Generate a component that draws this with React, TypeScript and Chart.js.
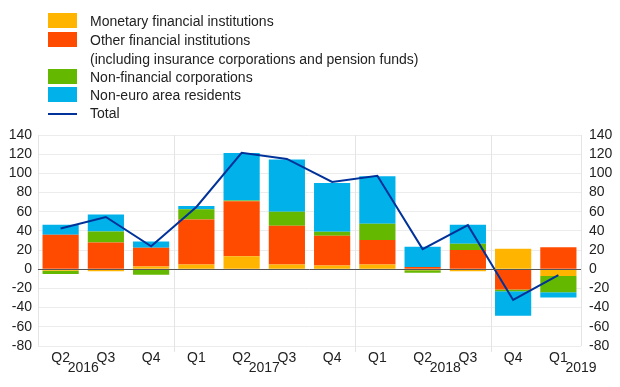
import React, { useEffect, useRef } from 'react';
import { Chart, registerables } from 'chart.js';

Chart.register(...registerables);

const quarters = ['Q2', 'Q3', 'Q4', 'Q1', 'Q2', 'Q3', 'Q4', 'Q1', 'Q2', 'Q3', 'Q4', 'Q1'];
const years = ['2016', '2017', '2018', '2019'];
const yearLabelPositions = [0.5, 4.5, 8.5, 11.5];
const yearBoundaries = [2.5, 6.5, 9.5];

const mfi = [-1.5, -2, 3, 5, 13.5, 5, 4, 5, -1, -2, 21.5, -7];
const ofi = [36, 28, 19.5, 47, 57.5, 40.5, 31, 25.5, 2.5, 20, -21, 23];
const nfc = [-3.5, 11.5, -5.8, 10.5, 0.8, 14.5, 4, 17, -2.5, 6.5, -2, -17];
const nea = [10.5, 17.5, 6.5, 3.5, 49.5, 54.5, 51, 49.5, 21, 20, -25.5, -5.5];
const total = [42.5, 54.5, 24, 65, 121.5, 115, 91, 97.5, 21, 46, -32, -6];

const yTicks = [140, 120, 100, 80, 60, 40, 20, 0, -20, -40, -60, -80];

const COLORS = {
  mfi: '#FFB400',
  ofi: '#FF4B00',
  nfc: '#65B800',
  nea: '#00B1EA',
  total: '#003299',
};

const FONT = '"Liberation Sans", Arial, Helvetica, sans-serif';
const TEXT = '#222222';

const legendItems = [
  { label: ['Monetary financial institutions'], color: COLORS.mfi, type: 'box' },
  { label: ['Other financial institutions', '(including insurance corporations and pension funds)'], color: COLORS.ofi, type: 'box' },
  { label: ['Non-financial corporations'], color: COLORS.nfc, type: 'box' },
  { label: ['Non-euro area residents'], color: COLORS.nea, type: 'box' },
  { label: ['Total'], color: COLORS.total, type: 'line' },
];

const decorPlugin = {
  id: 'decor',
  beforeDatasetsDraw(chart: any) {
    const { ctx, chartArea, scales } = chart;
    const x = scales.x;
    const y = scales.y;
    ctx.save();
    ctx.strokeStyle = '#e4e4e4';
    ctx.lineWidth = 1;
    [chartArea.left, chartArea.right].forEach((px: number) => {
      const p = Math.round(px) + 0.5;
      ctx.beginPath();
      ctx.moveTo(p, y.getPixelForValue(140));
      ctx.lineTo(p, y.getPixelForValue(-80));
      ctx.stroke();
    });
    yearBoundaries.forEach((b) => {
      const p = Math.round(x.getPixelForValue(b)) + 0.5;
      ctx.beginPath();
      ctx.moveTo(p, y.getPixelForValue(140));
      ctx.lineTo(p, chartArea.bottom + 6);
      ctx.stroke();
    });
    ctx.restore();
  },
  afterDatasetsDraw(chart: any) {
    const { ctx, chartArea, scales } = chart;
    const y = scales.y;
    ctx.save();
    ctx.strokeStyle = '#555555';
    ctx.lineWidth = 1;
    const p = Math.round(y.getPixelForValue(0)) + 0.5;
    ctx.beginPath();
    ctx.moveTo(chartArea.left, p);
    ctx.lineTo(chartArea.right, p);
    ctx.stroke();
    ctx.restore();
  },
  afterDraw(chart: any) {
    const { ctx, chartArea, scales } = chart;
    const x = scales.x;
    ctx.save();
    ctx.fillStyle = TEXT;
    ctx.font = `14px ${FONT}`;
    ctx.textAlign = 'center';
    ctx.textBaseline = 'middle';
    years.forEach((yr, i) => {
      ctx.fillText(yr, x.getPixelForValue(yearLabelPositions[i]), chartArea.bottom + 22);
    });
    ctx.restore();
  },
};

export default function App() {
  const canvasRef = useRef<HTMLCanvasElement | null>(null);

  useEffect(() => {
    document.body.style.margin = '0';
    const canvas = canvasRef.current;
    if (!canvas) return;
    const tickFont = { family: FONT, size: 14 };
    const chart = new Chart(canvas, {
      type: 'bar',
      data: {
        labels: quarters,
        datasets: [
          {
            type: 'line',
            label: 'Total',
            data: total,
            borderColor: COLORS.total,
            backgroundColor: COLORS.total,
            borderWidth: 2,
            pointRadius: 0,
            tension: 0,
            yAxisID: 'y',
            order: 0,
          } as any,
          { label: 'Monetary financial institutions', data: mfi, backgroundColor: COLORS.mfi, stack: 's', order: 1 },
          { label: 'Other financial institutions', data: ofi, backgroundColor: COLORS.ofi, stack: 's', order: 1 },
          { label: 'Non-financial corporations', data: nfc, backgroundColor: COLORS.nfc, stack: 's', order: 1 },
          { label: 'Non-euro area residents', data: nea, backgroundColor: COLORS.nea, stack: 's', order: 1 },
        ],
      },
      options: {
        animation: false,
        responsive: false,
        maintainAspectRatio: false,
        layout: { padding: { top: 135, left: 0, right: 0, bottom: 0 } },
        datasets: { bar: { categoryPercentage: 0.8, barPercentage: 1 } } as any,
        plugins: {
          legend: { display: false },
          tooltip: { enabled: false },
        },
        scales: {
          x: {
            stacked: true,
            grid: { display: false, drawTicks: false },
            border: { display: false },
            ticks: { font: tickFont, color: TEXT, padding: 4, maxRotation: 0, autoSkip: false },
            afterFit: (s: any) => { s.height = 41; },
          },
          y: {
            stacked: true,
            position: 'left',
            min: -80,
            max: 140,
            afterBuildTicks: (s: any) => { s.ticks = yTicks.map((v) => ({ value: v })); },
            grid: { color: '#ececec', drawTicks: false, lineWidth: 1 },
            border: { display: false },
            ticks: { font: tickFont, color: TEXT, padding: 6, autoSkip: false },
            afterFit: (s: any) => { s.width = 38; },
          },
          y2: {
            position: 'right',
            min: -80,
            max: 140,
            afterBuildTicks: (s: any) => { s.ticks = yTicks.map((v) => ({ value: v })); },
            grid: { display: false, drawTicks: false },
            border: { display: false },
            ticks: { font: tickFont, color: TEXT, padding: 8, autoSkip: false },
            afterFit: (s: any) => { s.width = 39; },
          },
        },
      },
      plugins: [decorPlugin],
    });
    return () => chart.destroy();
  }, []);

  const rowTops = [13, 32, 69, 87, 105];
  return (
    <div style={{ position: 'absolute', left: 0, top: 0, width: 620, height: 387, background: '#fff', overflow: 'hidden' }}>
      <canvas ref={canvasRef} width={620} height={387} style={{ position: 'absolute', left: 0, top: 0, width: 620, height: 387 }} />
      {legendItems.map((it, i) => (
        <div key={i} style={{ position: 'absolute', left: 0, top: rowTops[i], width: 620 }}>
          {it.type === 'box' ? (
            <div style={{ position: 'absolute', left: 48, top: 0, width: 29, height: 15, background: it.color }} />
          ) : (
            <div style={{ position: 'absolute', left: 48, top: 8, width: 29, height: 2, background: it.color }} />
          )}
          {it.label.map((t, j) => (
            <div
              key={j}
              style={{
                position: 'absolute',
                left: 90,
                top: 0 + j * 18.7,
                fontFamily: FONT,
                fontSize: 14,
                lineHeight: '17px',
                color: TEXT,
                whiteSpace: 'nowrap',
              }}
            >
              {t}
            </div>
          ))}
        </div>
      ))}
    </div>
  );
}
